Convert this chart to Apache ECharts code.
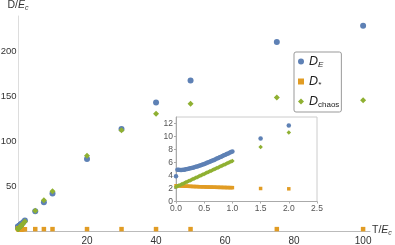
<!DOCTYPE html>
<html><head><meta charset="utf-8">
<script src="https://cdn.jsdelivr.net/npm/echarts@6/dist/echarts.min.js"></script>
<style>html,body{margin:0;padding:0;background:#fff}#c{width:395px;height:245px}</style>
</head><body><div id="c"></div>
<script>
// dense sampling T/E_c in [0,1]
var xDense = [0,0.025,0.05,0.075,0.1,0.125,0.15,0.175,0.2,0.225,0.25,0.275,0.3,0.325,0.35,0.375,0.4,0.425,0.45,0.475,0.5,0.525,0.55,0.575,0.6,0.625,0.65,0.675,0.7,0.725,0.75,0.775,0.8,0.825,0.85,0.875,0.9,0.925,0.95,0.975,1.0];
var dEDense = [3.9,4.9,4.9,4.85,4.85,4.9,4.9,4.95,5.0,5.05,5.1,5.15,5.2,5.27,5.33,5.4,5.47,5.54,5.62,5.7,5.78,5.86,5.95,6.04,6.13,6.22,6.31,6.4,6.5,6.6,6.7,6.8,6.9,7.0,7.1,7.2,7.3,7.4,7.5,7.6,7.7];
var dStarDense = [2.42,2.42,2.41,2.4,2.39,2.38,2.37,2.36,2.35,2.34,2.33,2.32,2.31,2.3,2.3,2.29,2.28,2.27,2.26,2.26,2.25,2.24,2.23,2.22,2.22,2.21,2.2,2.2,2.19,2.18,2.18,2.17,2.17,2.16,2.16,2.15,2.15,2.14,2.14,2.13,2.13];
var dChaosDense = [2.25,2.35,2.45,2.55,2.65,2.75,2.85,2.95,3.05,3.15,3.25,3.35,3.45,3.55,3.65,3.75,3.85,3.95,4.05,4.15,4.25,4.35,4.45,4.55,4.65,4.75,4.85,4.95,5.05,5.15,5.25,5.35,5.45,5.55,5.65,5.75,5.85,5.95,6.05,6.15,6.25];
// sparse sampling
var xSparse = [1.5,2,5,7.5,10,20,30,40,50,75,100];
var dESparse = [9.7,11.7,22,32,42,80.5,114,143.5,168,211,229];
var dStarSparse = [2.0,1.95,2.1,2.1,2.1,2.1,2.1,2.1,2.1,2.1,2.1];
var dChaosSparse = [8.4,10.6,22.7,34.4,44.5,84,112.6,131,142,149,146];
var insetMaxX = 2.5;

function pairs(xs, ys){ return xs.map(function(x,i){return [x, ys[i]];}); }
function upTo(xs, ys, lim){ var r=[]; xs.forEach(function(x,i){ if(x<=lim) r.push([x,ys[i]]); }); return r; }

var cBlue='#5E81B5', cOrange='#E19C24', cGreen='#8FB032';
var fontF = '"Liberation Sans", Arial, sans-serif';
var allX = xDense.concat(xSparse);
var allE = dEDense.concat(dESparse), allS = dStarDense.concat(dStarSparse), allC = dChaosDense.concat(dChaosSparse);

var chart = echarts.init(document.getElementById('c'), null, {renderer:'canvas'});
var richName = {
  r:{fontSize:10.5,color:'#333',fontFamily:fontF},
  i:{fontSize:10.5,color:'#333',fontStyle:'italic',fontFamily:fontF},
  s:{fontSize:7,color:'#333',fontStyle:'italic',fontFamily:fontF,padding:[6,0,0,0]}
};
var richLeg = {
  i:{fontSize:12.5,color:'#222',fontStyle:'italic',fontFamily:fontF},
  s:{fontSize:8,color:'#222',fontStyle:'italic',fontFamily:fontF,padding:[7,0,0,0]},
  sn:{fontSize:8,color:'#222',fontFamily:fontF,padding:[7,0,0,0]}
};
chart.setOption({
  animation:false,
  legend:{
    orient:'vertical', left:294, top:52, padding:[3,2,3,4],
    borderColor:'#999', borderWidth:1, borderRadius:2, backgroundColor:'#fff',
    itemWidth:6, itemHeight:6, itemGap:6,
    data:[{name:'D_E',icon:'circle'},{name:'D_*',icon:'rect'},{name:'D_chaos',icon:'diamond'}],
    formatter:function(n){
      if(n==='D_E') return '{i|D}{s|E}';
      if(n==='D_*') return '{i|D}{s|*}';
      return '{i|D}{sn|chaos}';
    },
    textStyle:{rich:richLeg, fontSize:12}
  },
  grid:[
    {left:18,right:25,top:16,bottom:14,z:0,outerBoundsMode:'none',containLabel:false},
    {left:176,right:78,top:117,bottom:43.5,show:true,backgroundColor:'#fff',borderColor:'#ccc',borderWidth:1,z:10,outerBoundsMode:'none',containLabel:false}
  ],
  xAxis:[
    {type:'value',gridIndex:0,min:0,max:102,interval:20,
     name:'{r|T/}{i|E}{s|c}',nameLocation:'end',nameGap:2,nameMoveOverlap:false,
     nameTextStyle:{rich:richName,verticalAlign:'middle',padding:[0,0,2,0]},
     axisLine:{lineStyle:{color:'#bbb'}},axisTick:{show:false},splitLine:{show:false},
     axisLabel:{showMaxLabel:false,fontSize:10,color:'#333',fontFamily:fontF,margin:5,
       formatter:function(v){return v===0?'':v;}}},
    {type:'value',gridIndex:1,min:0,max:insetMaxX,interval:0.5,z:11,
     axisLine:{onZero:false,lineStyle:{color:'#aaa'}},axisTick:{show:true,length:2,lineStyle:{color:'#aaa'}},splitLine:{show:false},
     axisLabel:{fontSize:8.5,color:'#555',fontFamily:fontF,margin:3,formatter:function(v){return v.toFixed(1);}}}
  ],
  yAxis:[
    {type:'value',gridIndex:0,min:0,max:240,interval:50,
     name:'{r|D/}{i|E}{s|c}',nameLocation:'end',nameGap:4,nameMoveOverlap:false,nameTextStyle:{rich:richName,align:'center'},
     axisLine:{show:true,lineStyle:{color:'#ddd'}},axisTick:{show:false},splitLine:{show:false},
     axisLabel:{showMaxLabel:false,align:'left',margin:18,
       formatter:function(v){return v===0?'':'{a|'+v+'}';},
       rich:{a:{width:16.5,align:'right',fontSize:9.5,color:'#333',fontFamily:fontF}}}},
    {type:'value',gridIndex:1,min:0,max:13,interval:2,z:11,
     axisLine:{show:true,onZero:false,lineStyle:{color:'#aaa'}},axisTick:{show:true,length:2,lineStyle:{color:'#aaa'}},splitLine:{show:false},
     axisLabel:{showMaxLabel:false,fontSize:8.5,color:'#555',fontFamily:fontF,margin:3}}
  ],
  series:[
    {name:'D_E',type:'scatter',xAxisIndex:0,yAxisIndex:0,symbol:'circle',symbolSize:6,itemStyle:{color:cBlue,opacity:1},data:pairs(allX,allE),z:2},
    {name:'D_*',type:'scatter',xAxisIndex:0,yAxisIndex:0,symbol:'rect',symbolSize:4.5,itemStyle:{color:cOrange,opacity:1},data:pairs(allX,allS),z:2},
    {name:'D_chaos',type:'scatter',xAxisIndex:0,yAxisIndex:0,symbol:'diamond',symbolSize:6,itemStyle:{color:cGreen,opacity:1},data:pairs(allX,allC),z:3},
    {name:'D_E',type:'scatter',xAxisIndex:1,yAxisIndex:1,symbol:'circle',symbolSize:4.5,itemStyle:{color:cBlue,opacity:1},data:upTo(allX,allE,insetMaxX),z:12},
    {name:'D_*',type:'scatter',xAxisIndex:1,yAxisIndex:1,symbol:'rect',symbolSize:3.5,itemStyle:{color:cOrange,opacity:1},data:upTo(allX,allS,insetMaxX),z:12},
    {name:'D_chaos',type:'scatter',xAxisIndex:1,yAxisIndex:1,symbol:'diamond',symbolSize:4.5,itemStyle:{color:cGreen,opacity:1},data:upTo(allX,allC,insetMaxX),z:13}
  ]
});
</script></body></html>
